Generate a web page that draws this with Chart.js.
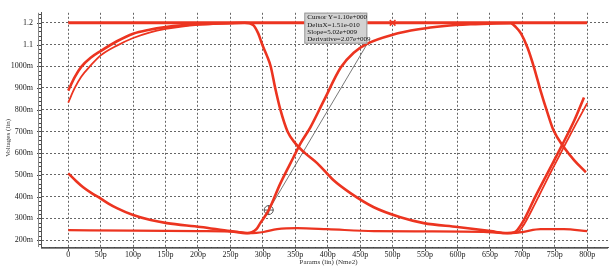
<!DOCTYPE html>
<html><head><meta charset="utf-8">
<script src="https://cdn.jsdelivr.net/npm/chart.js@4/dist/chart.umd.min.js"></script>
<style>html,body{margin:0;padding:0;background:#fff}#wrap{width:615px;height:266px}</style>
</head><body><div id="wrap"><canvas id="c"></canvas></div>
<script>
// ---- data (time in ps, voltage in V) ----
const xTicks = [0,50,100,150,200,250,300,350,400,450,500,550,600,650,700,750,800];
const xTickLabels = ['0','50p','100p','150p','200p','250p','300p','350p','400p','450p','500p','550p','600p','650p','700p','750p','800p'];
const yTicks = [0.2,0.3,0.4,0.5,0.6,0.7,0.8,0.9,1.0,1.1,1.2];
const yTickLabels = ['200m','300m','400m','500m','600m','700m','800m','900m','1000m','1.1','1.2'];

const tTop = [0,800];
const vTop = [1.2,1.2];

// rises from 0.88 to 1.2, falls after 280p, decays, rises again near 700p
const tNodeA = [0,10,20,35,50,75,100,125,150,175,200,250,272,285,293,299,306,312,319,327,338,350,365,384,409,435,471,512,548,600,651,677,688,700,720,740,760,780,795];
const vNodeA = [0.888,0.95,0.997,1.04,1.07,1.115,1.15,1.168,1.18,1.188,1.193,1.198,1.2,1.19,1.15,1.1,1.05,1.0,0.9,0.8,0.7,0.645,0.6,0.553,0.475,0.416,0.351,0.305,0.278,0.26,0.241,0.232,0.236,0.28,0.40,0.515,0.63,0.75,0.856];
const tNodeA2 = [0,10,20,35,50,75,100,125,150,175,200,250,280];
const vNodeA2 = [0.833,0.90,0.952,1.005,1.05,1.095,1.13,1.155,1.172,1.183,1.19,1.197,1.2];
const tNodeA3 = [650,677,692,700,720,740,760,780,800];
const vNodeA3 = [0.241,0.232,0.236,0.26,0.37,0.49,0.605,0.72,0.83];

// falls from 0.5, rises after 280p, falls again after 680p
const tNodeB = [0,12,23,36,49,62,75,100,127,152,204,250,276,283,290,296,309,327,347,358,373,394,420,440,461,500,540,580,620,660,682,690,698,708,718,728,739,748,764,780,798];
const vNodeB = [0.507,0.472,0.443,0.416,0.393,0.368,0.347,0.315,0.292,0.278,0.26,0.241,0.232,0.236,0.25,0.278,0.338,0.461,0.58,0.645,0.718,0.842,0.994,1.062,1.104,1.145,1.17,1.185,1.193,1.197,1.198,1.18,1.15,1.085,0.994,0.888,0.783,0.705,0.627,0.567,0.512];

// low rail with small bumps
const tLow = [0,100,200,260,276,290,301,322,353,400,471,550,640,670,690,702,728,764,800];
const vLow = [0.246,0.243,0.241,0.238,0.232,0.233,0.237,0.25,0.255,0.25,0.241,0.24,0.238,0.232,0.233,0.238,0.25,0.25,0.241];

// cursor measurement
const cursorT = [309,461];
const cursorV = [0.338,1.104];
const cursorText = ['Cursor Y=1.10e+000','DeltaX=1.51e-010','Slope=5.02e+009','Derivative=2.07e+009'];
const starT = [500];
const starV = [1.2];

const xTitle = 'Params (lin) (Nme2)';
const yTitle = 'Voltages (lin)';

// ---- build ----
const pts = (t,v) => t.map((x,i)=>({x:x,y:v[i]}));
const RED = 'rgb(236,52,32)';
const line = (label,t,v,w) => ({label, data:pts(t,v), borderColor:RED, backgroundColor:RED, borderWidth:w, pointRadius:0, tension:0.35, cubicInterpolationMode:'monotone', fill:false});

const datasets = [
  line('top', tTop, vTop, 3),
  line('nodeA', tNodeA, vNodeA, 2.6),
  line('nodeA2', tNodeA2, vNodeA2, 1.8),
  line('nodeA3', tNodeA3, vNodeA3, 1.8),
  line('nodeB', tNodeB, vNodeB, 2.6),
  line('low', tLow, vLow, 2.2),
  {label:'cursorLine', data:pts(cursorT,cursorV), borderColor:'#555', borderWidth:0.8, pointRadius:0, tension:0, fill:false},
  {label:'cursorA', data:pts([cursorT[0]],[cursorV[0]]), showLine:false, pointStyle:'circle', pointRadius:4.5, borderColor:'#555', backgroundColor:'rgba(0,0,0,0)', pointBorderWidth:1},
  {label:'cursorA2', data:pts([cursorT[0]],[cursorV[0]]), showLine:false, pointStyle:'cross', pointRadius:5, borderColor:'#555', pointBorderWidth:1},
  {label:'cursorB', data:pts([cursorT[1]],[cursorV[1]]), showLine:false, pointStyle:'crossRot', pointRadius:3, borderColor:'#555', pointBorderWidth:1},
  {label:'star', data:pts(starT,starV), showLine:false, pointStyle:'crossRot', pointRadius:4, borderColor:RED, pointBorderWidth:1.5},
];

const SERIF = '"Liberation Serif","DejaVu Serif",serif';

const decor = {
  id:'decor',
  afterDraw(chart){
    const ctx = chart.ctx, xs = chart.scales.x, ys = chart.scales.y, a = chart.chartArea;
    ctx.save();
    ctx.strokeStyle = '#444'; ctx.lineWidth = 1;
    ctx.beginPath();
    for (let t=-40; t<=830; t+=10){
      const px = Math.round(xs.getPixelForValue(t))+0.5;
      const len = (t%50===0)?4:2;
      ctx.moveTo(px, a.bottom); ctx.lineTo(px, a.bottom+len);
    }
    for (let v=0.18; v<=1.241; v+=0.02){
      const py = Math.round(ys.getPixelForValue(v))+0.5;
      const isMaj = Math.abs(Math.round(v*10)-v*10)<1e-6;
      ctx.moveTo(a.left, py); ctx.lineTo(a.left-(isMaj?4:2), py);
    }
    ctx.stroke();
    ctx.beginPath();
    ctx.moveTo(a.left-2.5, a.top); ctx.lineTo(a.left-2.5, a.bottom);
    ctx.moveTo(a.left, a.bottom+1.5); ctx.lineTo(a.right, a.bottom+1.5);
    ctx.strokeStyle='#888'; ctx.stroke();

    // info box anchored to the cursor point
    const bx = xs.getPixelForValue(cursorT[1]), by = ys.getPixelForValue(cursorV[1]);
    const w = 63, h = 31;
    ctx.fillStyle = '#d2d2d2';
    ctx.fillRect(bx-w, by-h, w, h);
    ctx.strokeStyle = '#9a9a9a'; ctx.lineWidth=1;
    ctx.strokeRect(bx-w+0.5, by-h+0.5, w-1, h-1);
    ctx.fillStyle = '#111';
    ctx.font = '7px '+SERIF;
    ctx.textBaseline = 'top'; ctx.textAlign='left';
    cursorText.forEach((s,i)=>ctx.fillText(s, bx-w+3, by-h+1.5+i*7.2));

    ctx.fillStyle = '#333';
    ctx.font = '7px '+SERIF;
    ctx.textAlign='center'; ctx.textBaseline='middle';
    ctx.fillText(xTitle, (a.left+a.right)/2+4, 262);
    ctx.translate(8, (a.top+a.bottom)/2+8);
    ctx.rotate(-Math.PI/2);
    ctx.fillText(yTitle, 0, 0);
    ctx.restore();
  }
};

new Chart(document.getElementById('c'), {
  type:'line',
  data:{datasets},
  options:{
    responsive:true, maintainAspectRatio:false, animation:false,
    layout:{padding:{left:0,top:12,right:7,bottom:0}},
    plugins:{legend:{display:false}, tooltip:{enabled:false}},
    scales:{
      x:{type:'linear', min:-42, max:832,
        afterBuildTicks(s){ s.ticks = xTicks.map(v=>({value:v})); },
        afterFit(s){ s.height = 19; },
        ticks:{padding:3, color:'#222', font:{family:SERIF,size:8}, maxRotation:0, autoSkip:false,
          callback(v){ const i = xTicks.indexOf(v); return i>=0 ? xTickLabels[i] : ''; }},
        grid:{color:'#666', lineWidth:1, drawTicks:false},
        border:{display:true, color:'#555', width:1, dash:[2,2]}
      },
      y:{type:'linear', min:0.168, max:1.246,
        afterBuildTicks(s){ s.ticks = yTicks.map(v=>({value:v})); },
        afterFit(s){ s.width = 41; },
        ticks:{padding:8, color:'#222', font:{family:SERIF,size:8}, autoSkip:false,
          callback(v){ const i = yTicks.findIndex(t=>Math.abs(t-v)<1e-6); return i>=0 ? yTickLabels[i] : ''; }},
        grid:{color:'#666', lineWidth:1, drawTicks:false},
        border:{display:true, color:'#555', width:1, dash:[2,2]}
      }
    }
  },
  plugins:[decor]
});
</script></body></html>
